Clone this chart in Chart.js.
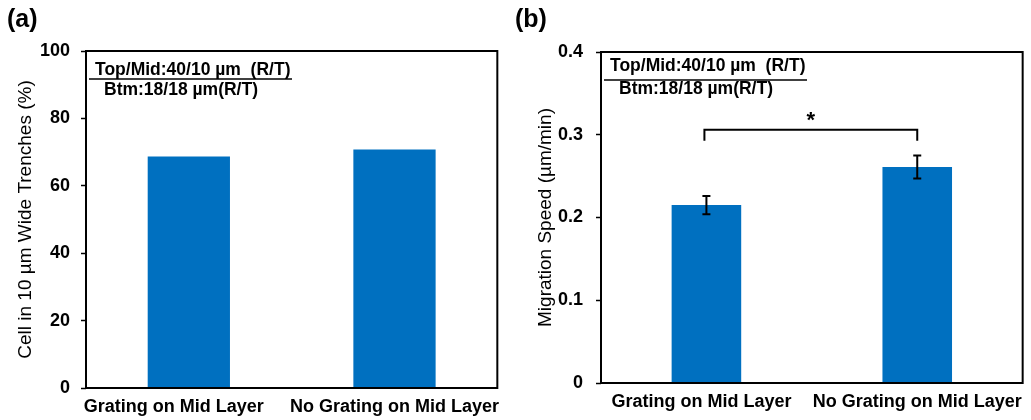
<!DOCTYPE html>
<html>
<head>
<meta charset="utf-8">
<script src="https://cdn.jsdelivr.net/npm/chart.js@4"></script>
<style>
  body { margin: 0; background: #fff; }
  #wrap { position: relative; width: 1031px; height: 420px; }
  .panel { position: absolute; top: 0; height: 420px; }
</style>
</head>
<body>
<div id="wrap">
  <div class="panel" style="left:0;width:510px"><canvas id="chartA"></canvas></div>
  <div class="panel" style="left:510px;width:521px"><canvas id="chartB"></canvas></div>
</div>
<script>
const categories = ['Grating on Mid Layer', 'No Grating on Mid Layer'];
const cellPercent = [68.7, 70.8];
const speed = [0.215, 0.261];
const speedErr = [0.011, 0.014];
const annotLines = ['Top/Mid:40/10 µm  (R/T)', 'Btm:18/18 µm(R/T)'];
const blue = '#0070c0';
const fontName = '"Liberation Sans", Arial, sans-serif';

// box around plot area + panel letter + condition note
const framePlugin = {
  id: 'frame',
  afterDraw(chart, args, opts) {
    const ctx = chart.ctx, a = chart.chartArea;
    ctx.save();
    ctx.strokeStyle = '#000';
    ctx.lineWidth = 2;
    ctx.strokeRect(a.left, a.top, a.right - a.left, a.bottom - a.top);
    ctx.fillStyle = '#000';
    ctx.font = 'bold 25px ' + fontName;
    ctx.textBaseline = 'top';
    ctx.fillText(opts.letter, opts.letterX, 8);
    ctx.font = 'bold 17.5px ' + fontName;
    ctx.textBaseline = 'middle';
    ctx.fillText(annotLines[0], a.left + 9, a.top + opts.t1);
    ctx.fillText(annotLines[1], a.left + 18, a.top + opts.t2);
    ctx.lineWidth = 1.5;
    ctx.beginPath();
    ctx.moveTo(a.left + 3, a.top + 28);
    ctx.lineTo(a.left + 206, a.top + 28);
    ctx.stroke();
    ctx.restore();
  }
};

// error bars and significance bracket for panel b
const errPlugin = {
  id: 'errs',
  afterDatasetsDraw(chart) {
    const ctx = chart.ctx;
    const x = chart.scales.x, y = chart.scales.y;
    ctx.save();
    ctx.strokeStyle = '#000';
    ctx.lineWidth = 2;
    speed.forEach((v, i) => {
      const cx = x.getPixelForValue(i);
      const yt = y.getPixelForValue(v + speedErr[i]);
      const yb = y.getPixelForValue(v - speedErr[i]);
      ctx.beginPath();
      ctx.moveTo(cx, yt); ctx.lineTo(cx, yb);
      ctx.moveTo(cx - 4, yt); ctx.lineTo(cx + 4, yt);
      ctx.moveTo(cx - 4, yb); ctx.lineTo(cx + 4, yb);
      ctx.stroke();
    });
    const x1 = x.getPixelForValue(0) - 2, x2 = x.getPixelForValue(1);
    const by = y.getPixelForValue(0.306);
    ctx.beginPath();
    ctx.moveTo(x1, by + 11); ctx.lineTo(x1, by);
    ctx.lineTo(x2, by); ctx.lineTo(x2, by + 11);
    ctx.stroke();
    ctx.fillStyle = '#000';
    ctx.font = 'bold 22px ' + fontName;
    ctx.textAlign = 'center';
    ctx.textBaseline = 'middle';
    ctx.fillText('*', (x1 + x2) / 2, by - 9);
    ctx.restore();
  }
};

function makeChart(id, data, yMax, yStep, yTitle, barPct, pad, yWidth, xHeight, tickPad, labelShift, frameOpts, extra) {
  return new Chart(document.getElementById(id), {
    type: 'bar',
    data: {
      labels: categories,
      datasets: [{ data: data, backgroundColor: blue, categoryPercentage: 1, barPercentage: barPct }]
    },
    options: {
      responsive: true,
      maintainAspectRatio: false,
      animation: false,
      layout: { padding: pad },
      plugins: {
        legend: { display: false },
        tooltip: { enabled: false },
        frame: frameOpts
      },
      scales: {
        x: {
          afterFit(s) { s.height = xHeight; },
          grid: { display: false, drawTicks: false },
          border: { display: false },
          ticks: { color: '#000', font: { family: fontName, size: 18, weight: 'bold' }, padding: 8,
                   maxRotation: 0, autoSkip: false,
                   // first label sits a little left of its bar in the original
                   callback: (v, i) => categories[i] + (i === 0 ? ' '.repeat(labelShift) : '') }
        },
        y: {
          min: 0, max: yMax,
          afterFit(s) { s.width = yWidth; },
          grid: { drawOnChartArea: false, drawTicks: true, tickLength: 5, color: '#000', tickWidth: 1.5 },
          border: { display: false },
          ticks: { stepSize: yStep, color: '#000', padding: tickPad, font: { family: fontName, size: 18, weight: 'bold' },
                   callback: v => yStep < 1 ? (v === 0 ? '0' : v.toFixed(1)) : v },
          title: { display: true, text: yTitle, color: '#000', font: { family: fontName, size: 19 }, padding: { top: 4, bottom: 4 } }
        }
      }
    },
    plugins: [framePlugin].concat(extra)
  });
}

makeChart('chartA', cellPercent, 100, 20, 'Cell in 10 µm Wide Trenches (%)', 0.4,
  { left: 10, right: 12, top: 51, bottom: 0 }, 76, 32, 11, 6,
  { letter: '(a)', letterX: 7, t1: 19, t2: 39 }, []);
makeChart('chartB', speed, 0.4, 0.1, 'Migration Speed (µm/min)', 0.33,
  { left: 20, right: 5, top: 52, bottom: 0 }, 71, 37, 13, 2,
  { letter: '(b)', letterX: 5, t1: 14, t2: 37 }, [errPlugin]);
</script>
</body>
</html>
